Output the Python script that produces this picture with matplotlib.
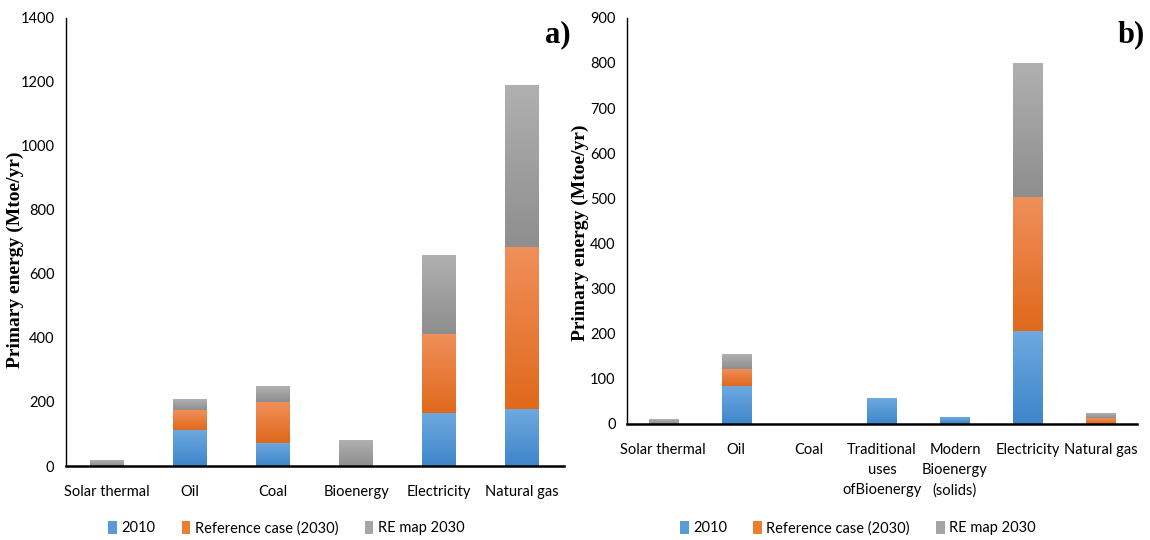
import matplotlib
matplotlib.use("Agg")
import matplotlib.pyplot as plt
from matplotlib.colors import LinearSegmentedColormap
import numpy as np

# panel a) data (Mtoe/yr)
cats_a = ['Solar thermal', 'Oil', 'Coal', 'Bioenergy', 'Electricity', 'Natural gas']
y2010_a = [0, 113, 73, 0, 165, 178]
ref2030_a = [0, 61, 128, 0, 247, 505]
remap_a = [18, 32, 49, 81, 244, 506]

# panel b) data (Mtoe/yr)
cats_b = ['Solar thermal', 'Oil', 'Coal', 'Traditional\nuses\nofBioenergy',
          'Modern\nBioenergy\n(solids)', 'Electricity', 'Natural gas']
y2010_b = [0, 83, 0, 57, 14, 206, 0]
ref2030_b = [0, 39, 0, 0, 0, 297, 13]
remap_b = [9, 32, 0, 0, 0, 295, 11]

series_names = ['2010', 'Reference case (2030)', 'RE map 2030']
colors = ['#5B9BD5', '#ED7D31', '#A5A5A5']
# (bottom, top) shades for the excel-like gradient fill
shades = [('#3E86CA', '#6DA9E0'), ('#E0691C', '#F08F5A'), ('#8E8E8E', '#B0B0B0')]

tick_font = ['Lato', 'DejaVu Sans']
label_font = 'Liberation Serif'

fig = plt.figure(figsize=(11.5, 5.4), dpi=100)
ax_a = fig.add_axes([0.057, 0.137, 0.433, 0.83])
ax_b = fig.add_axes([0.545, 0.215, 0.444, 0.752])

grad = np.linspace(0, 1, 64).reshape(-1, 1)


def shade_bars(ax, bars, k):
    cmap = LinearSegmentedColormap.from_list('s%d' % k, shades[k])
    for p in bars.patches:
        if p.get_height() <= 0:
            continue
        x0, y0 = p.get_x(), p.get_y()
        ax.imshow(grad, extent=[x0, x0 + p.get_width(), y0, y0 + p.get_height()],
                  origin='lower', aspect='auto', cmap=cmap, zorder=2)


def draw(ax, cats, s1, s2, s3, ymax, step, tag, legend_x):
    x = np.arange(len(cats))
    b1 = np.array(s1)
    b2 = b1 + np.array(s2)
    h1 = ax.bar(x, s1, 0.4, color=colors[0], label=series_names[0], zorder=1)
    h2 = ax.bar(x, s2, 0.4, bottom=b1, color=colors[1], label=series_names[1], zorder=1)
    h3 = ax.bar(x, s3, 0.4, bottom=b2, color=colors[2], label=series_names[2], zorder=1)
    for k, h in enumerate([h1, h2, h3]):
        shade_bars(ax, h, k)
    ax.set_xlim(-0.5, len(cats) - 0.5)
    ax.set_ylim(0, ymax)
    ax.set_yticks(np.arange(0, ymax + 1, step))
    ax.set_xticks(x)
    ax.set_xticklabels(cats, family=tick_font, fontsize=10.5, linespacing=1.55)
    for t in ax.get_yticklabels():
        t.set_family(tick_font)
        t.set_fontsize(10.5)
    ax.tick_params(axis='x', length=0, pad=14)
    ax.tick_params(axis='y', length=0, pad=8)
    ax.spines['top'].set_visible(False)
    ax.spines['right'].set_visible(False)
    ax.spines['bottom'].set_linewidth(1.8)
    ax.spines['left'].set_linewidth(1.0)
    ax.spines['bottom'].set_zorder(3)
    ax.set_ylabel('Primary energy (Mtoe/yr)', family=label_font,
                  fontweight='bold', fontsize=14)
    ax.text(1.015, 0.995, tag, transform=ax.transAxes, ha='right', va='top',
            family=label_font, fontweight='bold', fontsize=22)
    fig.legend(handles=[h1, h2, h3], loc='center', ncol=3, frameon=False,
               bbox_to_anchor=(legend_x, 0.022), prop={'family': tick_font, 'size': 10.5},
               handlelength=0.6, handleheight=1.0, handletextpad=0.3, columnspacing=1.8)


draw(ax_a, cats_a, y2010_a, ref2030_a, remap_a, 1400, 200, 'a)', 0.249)
draw(ax_b, cats_b, y2010_b, ref2030_b, remap_b, 900, 100, 'b)', 0.746)
ax_a.yaxis.set_label_coords(-0.083, 0.46)
ax_b.yaxis.set_label_coords(-0.074, 0.47)

fig.savefig('out.png', dpi=100)
